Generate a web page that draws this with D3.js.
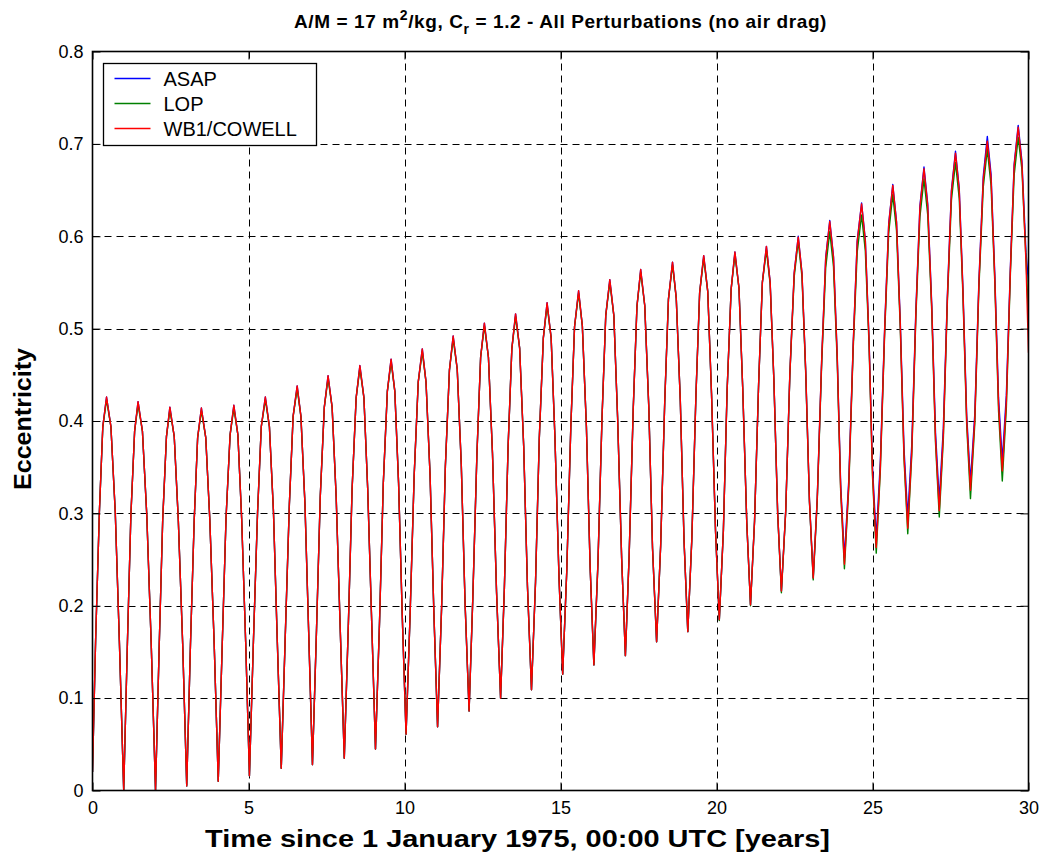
<!DOCTYPE html>
<html>
<head>
<meta charset="utf-8">
<script src="https://cdn.jsdelivr.net/npm/d3@7"></script>
<style>
  body { margin: 0; background: #fff; }
  svg { display: block; font-family: Arial, "Liberation Sans", sans-serif; }
</style>
</head>
<body>
<div id="chart"></div>
<script>
const seriesNames = ['ASAP', 'LOP', 'WB1/COWELL'];
const seriesColors = ['#0000ff', '#008000', '#ff0000'];
const xTicks = [0, 5, 10, 15, 20, 25, 30];
const yTicks = [0, 0.1, 0.2, 0.3, 0.4, 0.5, 0.6, 0.7, 0.8];

// time [years], one row per cycle: peak, 3 falling, minimum, 3 rising
const years = [
  0, 0.10, 0.22, 0.33,
  0.45, 0.59, 0.73, 0.86, 1.00, 1.12, 1.23, 1.35,
  1.46, 1.60, 1.74, 1.88, 2.02, 2.14, 2.25, 2.37,
  2.48, 2.62, 2.75, 2.89, 3.02, 3.14, 3.26, 3.37,
  3.49, 3.63, 3.76, 3.90, 4.03, 4.16, 4.28, 4.41,
  4.53, 4.66, 4.78, 4.91, 5.03, 5.16, 5.29, 5.41,
  5.54, 5.67, 5.80, 5.92, 6.05, 6.18, 6.31, 6.43,
  6.56, 6.68, 6.81, 6.93, 7.05, 7.18, 7.30, 7.43,
  7.55, 7.68, 7.81, 7.94, 8.07, 8.20, 8.32, 8.45,
  8.57, 8.70, 8.82, 8.95, 9.07, 9.20, 9.32, 9.45,
  9.57, 9.69, 9.81, 9.93, 10.05, 10.18, 10.31, 10.44,
  10.57, 10.69, 10.82, 10.94, 11.06, 11.19, 11.31, 11.44,
  11.56, 11.69, 11.82, 11.94, 12.07, 12.19, 12.32, 12.44,
  12.56, 12.69, 12.82, 12.95, 13.08, 13.20, 13.32, 13.44,
  13.56, 13.69, 13.82, 13.94, 14.07, 14.20, 14.32, 14.45,
  14.57, 14.70, 14.82, 14.95, 15.07, 15.20, 15.33, 15.45,
  15.58, 15.70, 15.83, 15.95, 16.07, 16.20, 16.33, 16.45,
  16.58, 16.71, 16.83, 16.96, 17.08, 17.20, 17.33, 17.45,
  17.57, 17.70, 17.83, 17.95, 18.08, 18.21, 18.34, 18.46,
  18.59, 18.71, 18.84, 18.96, 19.08, 19.21, 19.34, 19.46,
  19.59, 19.72, 19.84, 19.97, 20.09, 20.22, 20.34, 20.47,
  20.59, 20.72, 20.84, 20.97, 21.09, 21.22, 21.35, 21.47,
  21.60, 21.72, 21.84, 21.96, 22.08, 22.22, 22.35, 22.49,
  22.62, 22.74, 22.86, 22.98, 23.10, 23.23, 23.37, 23.50,
  23.63, 23.75, 23.87, 23.98, 24.10, 24.24, 24.38, 24.51,
  24.65, 24.77, 24.89, 25.00, 25.12, 25.25, 25.39, 25.52,
  25.65, 25.77, 25.89, 26.01, 26.13, 26.26, 26.39, 26.52,
  26.65, 26.77, 26.90, 27.02, 27.14, 27.27, 27.40, 27.53,
  27.66, 27.78, 27.90, 28.02, 28.14, 28.28, 28.41, 28.55,
  28.68, 28.80, 28.92, 29.04, 29.16, 29.29, 29.42, 29.54,
  29.67, 29.79, 29.92, 30.00
];

const asap = [
  0.020, 0.163, 0.301, 0.394,
  0.426, 0.394, 0.301, 0.163, 0.000, 0.161, 0.298, 0.389,
  0.421, 0.389, 0.298, 0.161, 0.000, 0.159, 0.293, 0.383,
  0.415, 0.383, 0.293, 0.159, 0.005, 0.158, 0.293, 0.382,
  0.414, 0.382, 0.293, 0.159, 0.010, 0.160, 0.295, 0.385,
  0.417, 0.385, 0.295, 0.160, 0.016, 0.164, 0.301, 0.394,
  0.426, 0.394, 0.302, 0.165, 0.024, 0.169, 0.310, 0.405,
  0.438, 0.405, 0.310, 0.170, 0.028, 0.174, 0.318, 0.415,
  0.449, 0.415, 0.318, 0.175, 0.035, 0.179, 0.326, 0.425,
  0.460, 0.425, 0.327, 0.181, 0.045, 0.183, 0.332, 0.432,
  0.467, 0.432, 0.333, 0.187, 0.061, 0.191, 0.341, 0.442,
  0.478, 0.442, 0.341, 0.194, 0.069, 0.199, 0.351, 0.455,
  0.492, 0.456, 0.353, 0.204, 0.086, 0.209, 0.363, 0.469,
  0.506, 0.469, 0.365, 0.215, 0.100, 0.218, 0.372, 0.478,
  0.516, 0.479, 0.373, 0.222, 0.109, 0.226, 0.381, 0.490,
  0.528, 0.490, 0.384, 0.233, 0.126, 0.237, 0.393, 0.502,
  0.541, 0.503, 0.394, 0.242, 0.136, 0.246, 0.403, 0.514,
  0.553, 0.514, 0.404, 0.251, 0.146, 0.254, 0.412, 0.524,
  0.564, 0.525, 0.415, 0.262, 0.161, 0.265, 0.420, 0.532,
  0.572, 0.533, 0.422, 0.270, 0.172, 0.273, 0.427, 0.539,
  0.579, 0.540, 0.430, 0.280, 0.185, 0.281, 0.433, 0.543,
  0.583, 0.544, 0.436, 0.290, 0.201, 0.292, 0.440, 0.550,
  0.589, 0.550, 0.444, 0.301, 0.216, 0.304, 0.450, 0.560,
  0.600, 0.560, 0.454, 0.313, 0.230, 0.317, 0.465, 0.577,
  0.617, 0.578, 0.470, 0.331, 0.252, 0.336, 0.482, 0.595,
  0.636, 0.596, 0.488, 0.350, 0.273, 0.355, 0.501, 0.614,
  0.656, 0.616, 0.508, 0.370, 0.296, 0.375, 0.520, 0.633,
  0.675, 0.635, 0.525, 0.387, 0.314, 0.392, 0.536, 0.650,
  0.692, 0.652, 0.542, 0.405, 0.334, 0.408, 0.551, 0.665,
  0.708, 0.667, 0.558, 0.425, 0.357, 0.428, 0.567, 0.678,
  0.720, 0.681, 0.582, 0.550
];

const lop = [
  0.020, 0.163, 0.301, 0.393,
  0.423, 0.394, 0.301, 0.163, 0.000, 0.161, 0.298, 0.389,
  0.418, 0.389, 0.298, 0.161, 0.000, 0.159, 0.293, 0.383,
  0.412, 0.383, 0.293, 0.159, 0.005, 0.158, 0.293, 0.382,
  0.411, 0.382, 0.293, 0.159, 0.010, 0.160, 0.295, 0.385,
  0.414, 0.385, 0.295, 0.160, 0.016, 0.164, 0.301, 0.394,
  0.423, 0.394, 0.302, 0.165, 0.024, 0.169, 0.310, 0.405,
  0.435, 0.405, 0.310, 0.170, 0.028, 0.174, 0.318, 0.415,
  0.446, 0.415, 0.318, 0.175, 0.035, 0.179, 0.326, 0.425,
  0.457, 0.425, 0.327, 0.181, 0.045, 0.183, 0.332, 0.432,
  0.464, 0.432, 0.333, 0.187, 0.061, 0.191, 0.341, 0.442,
  0.475, 0.442, 0.341, 0.194, 0.069, 0.199, 0.351, 0.455,
  0.489, 0.456, 0.353, 0.204, 0.086, 0.209, 0.363, 0.469,
  0.503, 0.469, 0.365, 0.215, 0.100, 0.218, 0.372, 0.478,
  0.513, 0.479, 0.373, 0.222, 0.109, 0.226, 0.381, 0.490,
  0.525, 0.490, 0.384, 0.233, 0.126, 0.237, 0.393, 0.502,
  0.538, 0.503, 0.394, 0.242, 0.136, 0.246, 0.403, 0.514,
  0.550, 0.514, 0.404, 0.251, 0.146, 0.254, 0.412, 0.524,
  0.561, 0.525, 0.415, 0.262, 0.161, 0.265, 0.420, 0.532,
  0.569, 0.533, 0.422, 0.270, 0.172, 0.273, 0.427, 0.539,
  0.576, 0.540, 0.430, 0.280, 0.184, 0.281, 0.433, 0.543,
  0.580, 0.544, 0.436, 0.290, 0.200, 0.292, 0.440, 0.550,
  0.585, 0.548, 0.443, 0.300, 0.214, 0.303, 0.449, 0.556,
  0.595, 0.556, 0.451, 0.312, 0.228, 0.314, 0.461, 0.566,
  0.605, 0.567, 0.464, 0.324, 0.240, 0.328, 0.477, 0.583,
  0.623, 0.584, 0.482, 0.340, 0.257, 0.345, 0.495, 0.604,
  0.645, 0.606, 0.501, 0.359, 0.278, 0.364, 0.513, 0.621,
  0.662, 0.623, 0.518, 0.376, 0.296, 0.380, 0.529, 0.639,
  0.680, 0.641, 0.535, 0.395, 0.316, 0.398, 0.544, 0.653,
  0.694, 0.655, 0.550, 0.411, 0.335, 0.414, 0.560, 0.666,
  0.707, 0.672, 0.575, 0.511
];

const wb1 = [
  0.020, 0.163, 0.301, 0.394,
  0.426, 0.394, 0.301, 0.163, 0.000, 0.161, 0.298, 0.389,
  0.421, 0.389, 0.298, 0.161, 0.000, 0.159, 0.293, 0.383,
  0.415, 0.383, 0.293, 0.159, 0.005, 0.158, 0.293, 0.382,
  0.414, 0.382, 0.293, 0.159, 0.010, 0.160, 0.295, 0.385,
  0.417, 0.385, 0.295, 0.160, 0.016, 0.164, 0.301, 0.394,
  0.426, 0.394, 0.302, 0.165, 0.024, 0.169, 0.310, 0.405,
  0.438, 0.405, 0.310, 0.170, 0.028, 0.174, 0.318, 0.415,
  0.449, 0.415, 0.318, 0.175, 0.035, 0.179, 0.326, 0.425,
  0.460, 0.425, 0.327, 0.181, 0.045, 0.183, 0.332, 0.432,
  0.467, 0.432, 0.333, 0.187, 0.061, 0.191, 0.341, 0.442,
  0.478, 0.442, 0.341, 0.194, 0.069, 0.199, 0.351, 0.455,
  0.492, 0.456, 0.353, 0.204, 0.086, 0.209, 0.363, 0.469,
  0.506, 0.469, 0.365, 0.215, 0.100, 0.218, 0.372, 0.478,
  0.516, 0.479, 0.373, 0.222, 0.109, 0.226, 0.381, 0.490,
  0.528, 0.490, 0.384, 0.233, 0.126, 0.237, 0.393, 0.502,
  0.541, 0.503, 0.394, 0.242, 0.136, 0.246, 0.403, 0.514,
  0.553, 0.514, 0.404, 0.251, 0.146, 0.254, 0.412, 0.524,
  0.564, 0.525, 0.415, 0.262, 0.161, 0.265, 0.420, 0.532,
  0.572, 0.533, 0.422, 0.270, 0.172, 0.273, 0.427, 0.539,
  0.579, 0.540, 0.430, 0.280, 0.185, 0.281, 0.433, 0.543,
  0.583, 0.544, 0.436, 0.290, 0.201, 0.292, 0.440, 0.550,
  0.589, 0.550, 0.444, 0.301, 0.216, 0.304, 0.450, 0.560,
  0.599, 0.560, 0.454, 0.313, 0.230, 0.317, 0.465, 0.576,
  0.616, 0.577, 0.469, 0.327, 0.245, 0.332, 0.481, 0.594,
  0.635, 0.595, 0.486, 0.344, 0.263, 0.349, 0.499, 0.613,
  0.655, 0.615, 0.505, 0.363, 0.284, 0.368, 0.517, 0.631,
  0.673, 0.633, 0.522, 0.380, 0.303, 0.385, 0.533, 0.648,
  0.690, 0.650, 0.539, 0.400, 0.325, 0.403, 0.548, 0.661,
  0.703, 0.663, 0.554, 0.418, 0.346, 0.421, 0.564, 0.676,
  0.718, 0.678, 0.571, 0.474
];

const W = 1041, H = 857;
const box = { left: 92.5, right: 1028.5, top: 51.5, bottom: 790.5 };

const svg = d3.select('#chart').append('svg')
  .attr('width', W).attr('height', H);
svg.append('rect').attr('width', W).attr('height', H).attr('fill', '#fff');

const x = d3.scaleLinear().domain([0, 30]).range([box.left, box.right]);
const y = d3.scaleLinear().domain([0, 0.8]).range([box.bottom, box.top]);

// dashed grid (inner lines only)
const grid = svg.append('g').attr('stroke', '#000').attr('stroke-width', 1)
  .attr('stroke-dasharray', '7,5');
grid.selectAll('.gx').data(xTicks.slice(1, -1)).join('line')
  .attr('x1', d => Math.round(x(d)) + 0.5).attr('x2', d => Math.round(x(d)) + 0.5)
  .attr('y1', box.top).attr('y2', box.bottom);
grid.selectAll('.gy').data(yTicks.slice(1, -1)).join('line')
  .attr('y1', d => Math.round(y(d)) + 0.5).attr('y2', d => Math.round(y(d)) + 0.5)
  .attr('x1', box.left).attr('x2', box.right);

// series
svg.append('clipPath').attr('id', 'plotclip').append('rect')
  .attr('x', box.left).attr('y', box.top)
  .attr('width', box.right - box.left).attr('height', box.bottom - box.top);

const allSeries = [asap, lop, wb1];
const line = d3.line().x(d => x(d[0])).y(d => y(d[1]));
svg.append('g').attr('clip-path', 'url(#plotclip)')
  .selectAll('path').data(allSeries).join('path')
  .attr('d', s => line(years.map((t, i) => [t, s[i]])))
  .attr('fill', 'none')
  .attr('stroke', (s, i) => seriesColors[i])
  .attr('stroke-width', 1.4)
  .attr('stroke-linejoin', 'round');

// axes with inward ticks on all four sides
const tickLen = 8;
const fmtY = d => d === 0 ? '0' : d3.format('.1f')(d);
const axB = svg.append('g').attr('transform', `translate(0,${box.bottom})`)
  .call(d3.axisBottom(x).tickValues(xTicks).tickSizeInner(-tickLen).tickSizeOuter(0).tickPadding(11).tickFormat(d3.format('d')));
svg.append('g').attr('transform', `translate(${box.left},0)`)
  .call(d3.axisLeft(y).tickValues(yTicks).tickSizeInner(-tickLen).tickSizeOuter(0).tickPadding(9).tickFormat(fmtY));
svg.append('g').attr('transform', `translate(0,${box.top})`)
  .call(d3.axisTop(x).tickValues(xTicks).tickSizeInner(-tickLen).tickSizeOuter(0).tickFormat(''));
svg.append('g').attr('transform', `translate(${box.right},0)`)
  .call(d3.axisRight(y).tickValues(yTicks).tickSizeInner(-tickLen).tickSizeOuter(0).tickFormat(''));
svg.selectAll('.domain').remove();
svg.selectAll('.tick line').attr('stroke', '#000').attr('stroke-width', 1);
svg.selectAll('.tick text').attr('fill', '#000').style('font-size', '18px')
  .style('font-family', 'Arial, "Liberation Sans", sans-serif');
axB.selectAll('.tick text').attr('dy', '0.71em');

svg.append('rect')
  .attr('x', box.left).attr('y', box.top)
  .attr('width', box.right - box.left).attr('height', box.bottom - box.top)
  .attr('fill', 'none').attr('stroke', '#000').attr('stroke-width', 1.6);

// title
const title = svg.append('text')
  .attr('x', (box.left + box.right) / 2).attr('y', 28)
  .attr('text-anchor', 'middle')
  .style('font-size', '19px').style('font-weight', 'bold')
  .style('letter-spacing', '0.6px');
title.append('tspan').text('A/M = 17 m');
title.append('tspan').attr('dy', -8).style('font-size', '14px').text('2');
title.append('tspan').attr('dy', 8).text('/kg, C');
title.append('tspan').attr('dy', 6).style('font-size', '14px').text('r');
title.append('tspan').attr('dy', -6).text(' = 1.2 - All Perturbations (no air drag)');

// axis labels
svg.append('text')
  .attr('x', 517.5).attr('y', 847)
  .attr('text-anchor', 'middle')
  .attr('textLength', 625).attr('lengthAdjust', 'spacingAndGlyphs')
  .style('font-size', '23px').style('font-weight', 'bold')
  .text('Time since 1 January 1975, 00:00 UTC [years]');
svg.append('text')
  .attr('transform', `translate(31,419) rotate(-90)`)
  .attr('text-anchor', 'middle')
  .attr('textLength', 142).attr('lengthAdjust', 'spacingAndGlyphs')
  .style('font-size', '23px').style('font-weight', 'bold')
  .text('Eccentricity');

// legend
const leg = svg.append('g').attr('transform', 'translate(103.5,63.5)');
leg.append('rect').attr('width', 213).attr('height', 82)
  .attr('fill', '#fff').attr('stroke', '#000').attr('stroke-width', 1.3);
const rows = leg.selectAll('.row').data(seriesNames).join('g')
  .attr('transform', (d, i) => `translate(0,${15 + i * 25})`);
rows.append('line').attr('x1', 11).attr('x2', 47)
  .attr('stroke', (d, i) => seriesColors[i]).attr('stroke-width', 1.3);
rows.append('text').attr('x', 60).attr('dy', '0.36em')
  .style('font-size', '20px').text(d => d);
</script>
</body>
</html>
